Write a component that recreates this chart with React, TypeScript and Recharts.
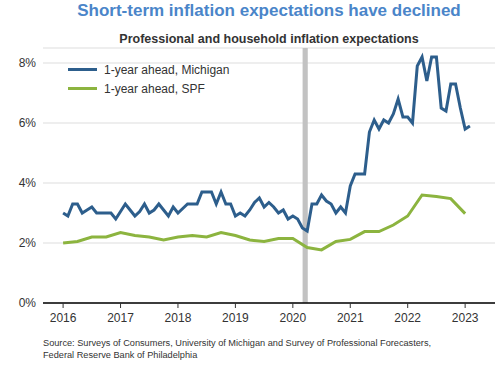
import {
  LineChart,
  Line,
  XAxis,
  YAxis,
  CartesianGrid,
  ReferenceArea,
} from 'recharts';

/* Michigan vs SPF one-year-ahead inflation expectations */

const startYear = 2016;

// monthly, Jan 2016 .. Feb 2023
const michigan = [
  3.0, 2.9, 3.3, 3.3, 3.0, 3.1, 3.2, 3.0, 3.0, 3.0, 3.0, 2.8,
  3.05, 3.3, 3.1, 2.9, 3.05, 3.3, 3.0, 3.1, 3.3, 3.1, 2.9, 3.2,
  3.0, 3.15, 3.3, 3.3, 3.3, 3.7, 3.7, 3.7, 3.3, 3.7, 3.3, 3.3,
  2.9, 3.0, 2.9, 3.1, 3.35, 3.5, 3.2, 3.35, 3.2, 3.0, 3.1, 2.8,
  2.9, 2.8, 2.5, 2.4, 3.3, 3.3, 3.6, 3.4, 3.3, 3.0, 3.2, 3.0,
  3.9, 4.3, 4.3, 4.3, 5.7, 6.1, 5.8, 6.1, 6.0, 6.3, 6.8, 6.2,
  6.2, 6.0, 7.9, 8.2, 7.4, 8.2, 8.2, 6.5, 6.4, 7.3, 7.3, 6.5,
  5.8, 5.9,
];

// quarterly, 2016Q1 .. 2023Q1
const spf = [
  2.0, 2.05, 2.2, 2.2,
  2.35, 2.25, 2.2, 2.1,
  2.2, 2.25, 2.2, 2.35,
  2.25, 2.1, 2.05, 2.15,
  2.15, 1.85, 1.77, 2.05,
  2.12, 2.38, 2.38, 2.6,
  2.9, 3.6, 3.55, 3.48,
  2.98,
];

const yearTicks = [2016, 2017, 2018, 2019, 2020, 2021, 2022, 2023];
const pctTicks = [0, 2, 4, 6, 8];
const covidBar = [2020.17, 2020.26];

const MICH_COLOR = '#2d5e8c';
const SPF_COLOR = '#8cb43f';
const FONT = '"Liberation Sans", Arial, sans-serif';

const rows = michigan.map((v, i) => ({
  t: startYear + i / 12,
  mich: v,
  spf: i % 3 === 0 && spf[i / 3] !== undefined ? spf[i / 3] : null,
}));

const legendItems = [
  { name: '1-year ahead, Michigan', color: MICH_COLOR },
  { name: '1-year ahead, SPF', color: SPF_COLOR },
];

const ChartLegend = () => (
  <div
    style={{
      position: 'absolute',
      top: 60,
      left: 68,
      fontFamily: FONT,
      fontSize: 12,
      color: '#333',
    }}
  >
    {legendItems.map((item) => (
      <div key={item.name} style={{ display: 'flex', alignItems: 'center', height: 19 }}>
        <span
          style={{ width: 29, height: 3, background: item.color, marginRight: 7, display: 'inline-block' }}
        />
        {item.name}
      </div>
    ))}
  </div>
);

export default function App() {
  return (
    <div
      style={{
        position: 'absolute',
        left: 0,
        top: 0,
        width: 500,
        height: 365,
        background: '#fff',
        fontFamily: FONT,
      }}
    >
      <div
        style={{
          position: 'absolute',
          top: 1,
          left: 0,
          width: 538,
          textAlign: 'center',
          fontSize: 17,
          fontWeight: 'bold',
          color: '#4a85c9',
        }}
      >
        Short-term inflation expectations have declined
      </div>
      <div
        style={{
          position: 'absolute',
          top: 32,
          left: 0,
          width: 538,
          textAlign: 'center',
          fontSize: 12.5,
          fontWeight: 'bold',
          color: '#333',
        }}
      >
        Professional and household inflation expectations
      </div>

      <LineChart
        width={500}
        height={365}
        data={rows}
        margin={{ top: 48, right: 5, bottom: 32, left: 0 }}
        style={{ position: 'absolute', left: 0, top: 0 }}
      >
        <CartesianGrid vertical={false} stroke="#e8e8e8" strokeWidth={1.5} />
        <ReferenceArea x1={covidBar[0]} x2={covidBar[1]} fill="#c2c2c2" fillOpacity={1} stroke="none" />
        <XAxis
          dataKey="t"
          type="number"
          domain={[2015.65, 2023.52]}
          ticks={yearTicks}
          height={30}
          tickSize={5}
          tickMargin={5}
          axisLine={{ stroke: '#000', strokeWidth: 1.5 }}
          tickLine={{ stroke: '#333' }}
          tick={{ fill: '#333', fontSize: 12, fontFamily: FONT }}
          tickFormatter={(v: number) => String(Math.round(v))}
        />
        <YAxis
          type="number"
          domain={[0, 8.5]}
          ticks={pctTicks}
          width={43}
          axisLine={false}
          tickLine={false}
          tickSize={0}
          tickMargin={7}
          tick={{ fill: '#333', fontSize: 12, fontFamily: FONT }}
          tickFormatter={(v: number) => `${v}%`}
        />
        <Line
          type="linear"
          dataKey="mich"
          stroke={MICH_COLOR}
          strokeWidth={3}
          dot={false}
          isAnimationActive={false}
        />
        <Line
          type="linear"
          dataKey="spf"
          stroke={SPF_COLOR}
          strokeWidth={3}
          dot={false}
          connectNulls
          isAnimationActive={false}
        />
      </LineChart>

      <ChartLegend />

      <div
        style={{
          position: 'absolute',
          top: 337,
          left: 43,
          fontSize: 9.2,
          lineHeight: '12px',
          color: '#333',
        }}
      >
        Source: Surveys of Consumers, University of Michigan and Survey of Professional Forecasters,
        <br />
        Federal Reserve Bank of Philadelphia
      </div>
    </div>
  );
}
